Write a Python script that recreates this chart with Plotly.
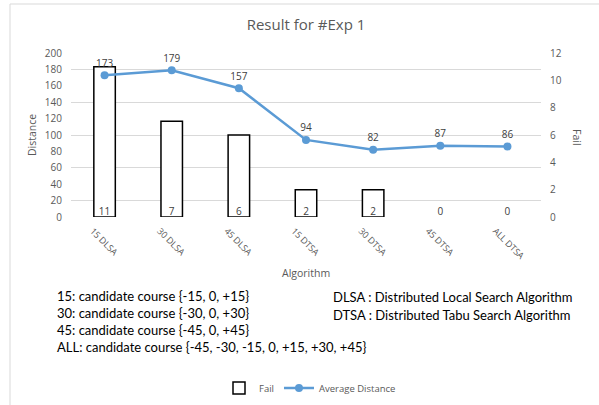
import plotly.graph_objects as go

# Experiment #1 results per algorithm setting
algorithms = ["15 DLSA", "30 DLSA", "45 DLSA", "15 DTSA", "30 DTSA", "45 DTSA", "ALL DTSA"]
fail_counts = [11, 7, 6, 2, 2, 0, 0]
avg_distance = [173, 179, 157, 94, 82, 87, 86]

distance_ticks = list(range(0, 201, 20))
distance_grid = [20, 60, 100, 140, 180]
fail_ticks = list(range(0, 13, 2))
DIST_MAX, FAIL_MAX = 200, 12

notes_left = [
    "15: candidate course {-15, 0, +15}",
    "30: candidate course {-30, 0, +30}",
    "45: candidate course {-45, 0, +45}",
    "ALL: candidate course {-45, -30, -15, 0, +15, +30, +45}",
]
notes_right = [
    "DLSA : Distributed Local Search Algorithm",
    "DTSA : Distributed Tabu Search Algorithm",
]

W, H = 599, 405
L, R, T, B = 71, 541, 53, 217


def px_x(p):
    return (p - L) / (R - L)


def px_y(p):
    return (B - p) / (B - T)


GRAY = "#595959"
LABEL = "#404040"
BLUE = "#5b9bd5"
TICK_FONT = dict(family="Open Sans", size=10, color=GRAY)

fig = go.Figure()

fig.add_trace(go.Bar(
    x=algorithms, y=fail_counts, name="Fail", yaxis="y",
    width=0.32,
    marker=dict(color="white",
                line=dict(color="black",
                          width=[1.5 if v > 0 else 0 for v in fail_counts])),
    hoverinfo="x+y",
))
fig.add_trace(go.Scatter(
    x=algorithms, y=[0] * len(fail_counts), yaxis="y",
    mode="text", text=[str(v) for v in fail_counts],
    textposition="top center",
    textfont=dict(family="Open Sans", size=10, color=LABEL),
    showlegend=False, hoverinfo="skip", cliponaxis=False,
))
fig.add_trace(go.Scatter(
    x=algorithms, y=avg_distance, name="Average Distance", yaxis="y2",
    mode="lines+markers+text",
    line=dict(color=BLUE, width=2.5),
    marker=dict(color=BLUE, size=8),
    text=[str(v) for v in avg_distance], textposition="top center",
    textfont=dict(family="Open Sans", size=10, color=LABEL),
    cliponaxis=False,
))

annotations = [
    dict(text="Distance", x=px_x(32), y=0.5, textangle=-90),
    dict(text="Fail", x=px_x(577), y=px_y(137), textangle=90),
    dict(text="Algorithm", x=px_x(306), y=px_y(273)),
]
for a in annotations:
    a.update(xref="paper", yref="paper", showarrow=False,
             xanchor="center", yanchor="middle",
             font=dict(family="Open Sans", size=10.5, color=GRAY))

for i, line in enumerate(notes_left):
    annotations.append(dict(
        text=line, xref="paper", yref="paper", x=px_x(55), y=px_y(296 + 17 * i),
        xanchor="left", yanchor="middle", showarrow=False,
        font=dict(family="Lato", size=13, color="black"),
    ))
for i, line in enumerate(notes_right):
    annotations.append(dict(
        text=line, xref="paper", yref="paper", x=px_x(331), y=px_y(297 + 18 * i),
        xanchor="left", yanchor="middle", showarrow=False,
        font=dict(family="Lato", size=13, color="black"),
    ))

border = dict(color="#d9d9d9", width=1)
shapes = [
    dict(type="line", xref="paper", yref="paper",
         x0=px_x(10), x1=px_x(10), y0=px_y(4), y1=px_y(H + 5), line=border),
    dict(type="line", xref="paper", yref="paper",
         x0=px_x(10), x1=px_x(W + 5), y0=px_y(4), y1=px_y(4), line=border),
]

fig.update_layout(
    width=W, height=H,
    margin=dict(l=L, r=W - R, t=T, b=H - B, autoexpand=False),
    paper_bgcolor="white", plot_bgcolor="white",
    title=dict(text="Result for #Exp 1", x=306 / W, xanchor="center",
               y=1 - 25 / H, yanchor="middle",
               font=dict(family="Open Sans", size=15, color=GRAY)),
    xaxis=dict(
        type="category", tickangle=45, showgrid=False, showline=False,
        zeroline=False, ticks="", automargin=False,
        tickfont=dict(family="Open Sans", size=9, color=GRAY),
        ticklabelstandoff=6, ticklabelshift=-12,
    ),
    yaxis=dict(
        side="right", range=[0, FAIL_MAX], tickvals=fail_ticks, showgrid=False,
        zeroline=False, showline=False, ticks="", tickfont=TICK_FONT,
        ticklabelstandoff=8, automargin=False,
        # horizontal grid follows the distance scale
        minor=dict(tickvals=[v * FAIL_MAX / DIST_MAX for v in distance_grid],
                   showgrid=True, gridcolor="#d9d9d9", gridwidth=1, ticks=""),
    ),
    yaxis2=dict(
        overlaying="y", side="left", range=[0, DIST_MAX], tickvals=distance_ticks,
        showgrid=False, zeroline=False, showline=False, ticks="",
        tickfont=TICK_FONT, ticklabelstandoff=8, automargin=False,
    ),
    showlegend=True,
    legend=dict(orientation="h", x=px_x(310), y=px_y(388),
                xanchor="center", yanchor="middle",
                font=dict(family="Open Sans", size=9.5, color=GRAY),
                bgcolor="rgba(0,0,0,0)"),
    annotations=annotations,
    shapes=shapes,
)

fig.write_html("out.html")
